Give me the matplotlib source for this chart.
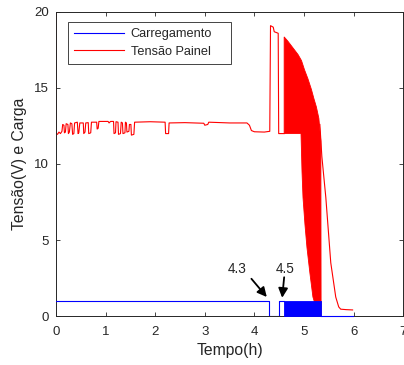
import matplotlib
matplotlib.use("Agg")
import matplotlib.pyplot as plt

plt.rcParams['font.family'] = ['Liberation Sans', 'DejaVu Sans']

# Panel voltage trace (hours, volts)
painel_t = [0.000, 0.004, 0.03, 0.06, 0.09, 0.12, 0.135, 0.16, 0.17, 0.19, 0.205, 0.24,
            0.25, 0.27, 0.29, 0.32, 0.335, 0.36, 0.375, 0.43, 0.445, 0.46, 0.48, 0.55,
            0.56, 0.585, 0.60, 0.65, 0.66, 0.70, 0.715, 0.82, 0.83, 0.85, 0.865, 1.05,
            1.07, 1.10, 1.16, 1.17, 1.20, 1.21, 1.25, 1.26, 1.30, 1.315, 1.34, 1.35,
            1.39, 1.40, 1.42, 1.43, 1.47, 1.48, 1.51, 1.52, 1.57, 1.585, 1.90, 2.20,
            2.21, 2.27, 2.28, 2.60, 2.98, 3.00, 3.06, 3.08, 3.50, 3.85, 3.90, 3.94,
            4.00, 4.20, 4.31, 4.325, 4.38, 4.40, 4.48, 4.49, 4.60]
painel_v = [20.0, 12.0, 11.95, 12.1, 12.0, 12.15, 12.6, 12.55, 12.05, 12.1, 12.65, 12.6,
            12.0, 12.1, 12.7, 12.65, 11.95, 12.0, 12.7, 12.75, 12.0, 12.05, 12.7, 12.7,
            12.0, 12.1, 12.7, 12.72, 12.0, 12.05, 12.75, 12.75, 12.3, 12.35, 12.8, 12.8,
            12.7, 12.8, 12.8, 12.0, 12.05, 12.78, 12.75, 11.95, 12.0, 12.75, 12.7, 12.0,
            12.05, 12.75, 12.7, 12.1, 12.15, 12.6, 12.6, 11.9, 11.95, 12.75, 12.78, 12.75,
            12.0, 12.0, 12.7, 12.72, 12.68, 12.55, 12.6, 12.75, 12.7, 12.7, 12.55, 12.2,
            12.12, 12.1, 12.15, 19.1, 19.0, 18.7, 18.6, 12.0, 12.0]

# Switching interval: envelope of the panel voltage
env_sup_t = [4.60, 4.67, 4.74, 4.81, 4.88, 4.95, 5.01, 5.08, 5.15, 5.20, 5.25, 5.30, 5.34, 5.345]
env_sup_v = [18.36, 18.1, 17.8, 17.5, 17.2, 16.8, 16.2, 15.6, 14.9, 14.3, 13.75, 13.0, 11.5, 0.0]
env_inf_t = [4.60, 4.94, 4.96, 4.98, 5.02, 5.06, 5.12, 5.18, 5.25, 5.32, 5.345]
env_inf_v = [12.0, 12.0, 9.5, 7.8, 6.0, 4.5, 2.8, 1.25, 0.5, 0.0, 0.0]

# Panel voltage decay after charging ends
decai_t = [5.32, 5.36, 5.44, 5.54, 5.64, 5.70, 5.74, 5.85, 5.98]
decai_v = [12.6, 10.5, 7.8, 3.5, 1.25, 0.6, 0.45, 0.42, 0.4]

# Charging state (0/1)
carga_t = [0.0, 4.30, 4.30, 4.49, 4.49, 4.60]
carga_v = [1, 1, 0, 0, 1, 1]
pwm_inicio, pwm_fim = 4.60, 5.335
carga_fim_t = [5.335, 5.98]
carga_fim_v = [0, 0]

anotacoes = [("4.3", (3.65, 3.1), (3.94, 2.45), (4.25, 1.25)),
             ("4.5", (4.63, 3.1), (4.60, 2.55), (4.56, 1.2))]

cinza = '#262626'
fig = plt.figure(figsize=(4.04, 3.65), dpi=100)
ax = fig.add_axes([0.1386, 0.1342, 0.8594, 0.833])

# Panel voltage
ln_p, = ax.plot(painel_t, painel_v, color='red', lw=0.8, zorder=2)
poly_t = env_sup_t + env_inf_t[::-1]
poly_v = env_sup_v + env_inf_v[::-1]
ax.fill(poly_t, poly_v, color='red', lw=0.6, zorder=2)
ax.plot(decai_t, decai_v, color='red', lw=0.8, zorder=2)

# Charging signal
ln_c, = ax.plot(carga_t, carga_v, color='blue', lw=0.8, zorder=3)
ax.fill_between([pwm_inicio, pwm_fim], [0, 0], [1, 1], color='blue', lw=0.6, zorder=3)
ax.plot(carga_fim_t, carga_fim_v, color='blue', lw=0.8, zorder=3, clip_on=False)

for txt, pos_txt, base, ponta in anotacoes:
    ax.text(pos_txt[0], pos_txt[1], txt, ha='center', va='center', fontsize=9.8, color=cinza)
    ax.annotate('', xy=ponta, xytext=base,
                arrowprops=dict(arrowstyle='-|>', color='black', lw=1.3,
                                mutation_scale=14, shrinkA=0, shrinkB=0))

ax.set_xlim(0, 7)
ax.set_ylim(0, 20)
ax.set_xticks(range(0, 8))
ax.set_yticks([0, 5, 10, 15, 20])
ax.tick_params(direction='in', top=True, right=True, length=3, width=0.6,
               colors=cinza, labelsize=9.5)
ax.tick_params(axis='x', pad=7.5)
ax.tick_params(axis='y', pad=5)
for s in ax.spines.values():
    s.set_color(cinza)
    s.set_linewidth(0.7)

ax.set_xlabel('Tempo(h)', fontsize=11.3, color=cinza, labelpad=3)
ax.set_ylabel('Tensão(V) e Carga', fontsize=11.3, color=cinza, labelpad=5)

leg = ax.legend([ln_c, ln_p], ['Carregamento', 'Tensão Painel'], loc='upper left',
                bbox_to_anchor=(0.0346, 0.5, 0.47, 0.467), mode='expand',
                fontsize=9.2, handlelength=3.9, handletextpad=0.5, borderpad=0.5,
                labelspacing=0.42, fancybox=False, framealpha=1, borderaxespad=0)
leg.get_frame().set_edgecolor(cinza)
leg.get_frame().set_linewidth(0.6)
for t in leg.get_texts():
    t.set_color(cinza)

fig.savefig('out.png', dpi=100)
